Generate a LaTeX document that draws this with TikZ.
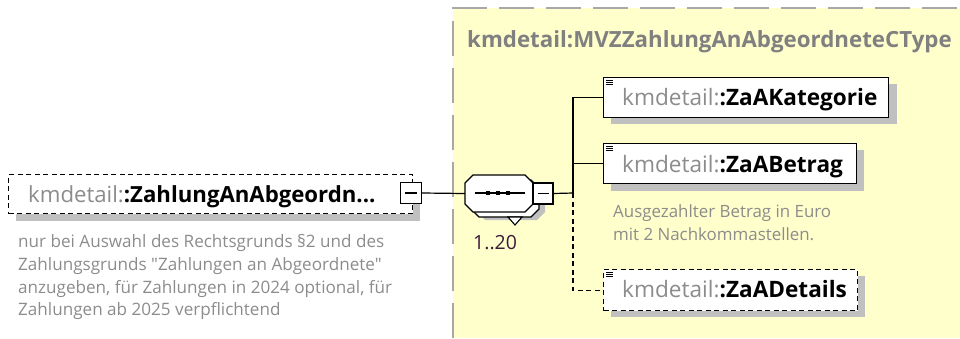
\documentclass[tikz,border=0pt]{standalone}
\usepackage{fontspec}
\setmainfont{Open Sans}[Ligatures=TeXOff]
\usetikzlibrary{calc}
\definecolor{bgyellow}{HTML}{FFFFCC}
\definecolor{shadowgray}{HTML}{C0C0C0}
\definecolor{txtgray}{HTML}{8C8C8C}
\definecolor{titlegray}{HTML}{808080}
\definecolor{borderdash}{HTML}{A8A8A8}
\definecolor{occ}{HTML}{3C1A3A}
\begin{document}
\begin{tikzpicture}[x=1pt,y=-1pt,
  elbox/.style={draw=black, fill=white, line width=1.3pt, inner sep=0pt, anchor=north west},
  optbox/.style={elbox, dash pattern=on 5pt off 3.5pt},
  minusbox/.style={draw=black, fill=white, line width=1.2pt, inner sep=0pt, minimum width=21pt, minimum height=21pt},
  namefont/.style={font=\fontsize{22.6}{26}\selectfont},
  nametext/.style={anchor=base west, inner sep=0pt, namefont},
  desc/.style={anchor=north west, inner sep=0pt, align=left, text=txtgray, font=\fontsize{17.1}{22.7}\selectfont},
  conn/.style={draw=black, line width=1.2pt},
  optconn/.style={conn, dash pattern=on 5pt off 3.5pt}
]
\useasboundingbox (0,0) rectangle (960,338);
% yellow type area
\fill[bgyellow] (453,8) rectangle (960,338);
\draw[borderdash, line width=1.6pt, dash pattern=on 35pt off 12pt] (453,338) -- (453,8) -- (960,8);
\node[anchor=base west, inner sep=0pt, text=titlegray, font=\fontsize{22.3}{26}\selectfont\bfseries] (title) at (467,47) {kmdetail:MVZZahlungAnAbgeordneteCType};

% ---------- left element ----------
\fill[shadowgray] (16,182) rectangle (420,221);
\node[optbox, minimum width=404pt, minimum height=39pt] (elem) at (8,174) {};
\node[nametext, font=\fontsize{22.2}{26}\selectfont] (elemtext) at (28,202) {\textcolor{txtgray}{kmdetail:}\textbf{:ZahlungAnAbgeordn...}};
\node[minusbox] (elemminus) at (411,193) {};
\draw[line width=1.2pt] ($(elemminus.center)+(-6,0)$) -- ($(elemminus.center)+(6,0)$);
\node[desc] (elemdesc) at (18,234.5) {nur bei Auswahl des Rechtsgrunds §2 und des\\Zahlungsgrunds "Zahlungen an Abgeordnete"\\anzugeben, für Zahlungen in 2024 optional, für\\Zahlungen ab 2025 verpflichtend};

% ---------- sequence compositor ----------
\node[inner sep=0pt, minimum width=68pt, minimum height=37pt] (seq) at (499,193.5) {};
\def\octpath{(473,175) -- (525,175) -- (533,183) -- (533,204) -- (525,212) -- (473,212) -- (465,204) -- (465,183) -- cycle}
\begin{scope}[shift={(12,8)}]
  \fill[shadowgray] \octpath;
\end{scope}
\begin{scope}[shift={(6,5)}]
  \filldraw[fill=white, draw=black, line width=1.1pt] \octpath;
\end{scope}
\filldraw[fill=white, draw=black, line width=1.1pt] (508,217) -- (522,217) -- (515,225) -- cycle;
\filldraw[fill=white, draw=black, line width=1.2pt] \octpath;
\draw[line width=1.3pt] (475,193) -- (525,193);
\foreach \sx in {488,498,508} \fill[black] (\sx-2.2,190.8) rectangle (\sx+2.2,195.2);
\node[minusbox, minimum width=20pt] (seqminus) at (543,193.5) {};
\draw[line width=1.2pt] ($(seqminus.center)+(-5.5,0)$) -- ($(seqminus.center)+(5.5,0)$);
\node[anchor=base west, inner sep=0pt, text=occ, font=\fontsize{19.5}{22}\selectfont] (occ) at (473,249) {1..20};

% ---------- children ----------
\fill[shadowgray] (611,84) rectangle (897,124);
\node[elbox, minimum width=285pt, minimum height=40pt] (kat) at (603,77) {};
\node[nametext] (kattext) at (622,105) {\textcolor{txtgray}{kmdetail:}\textbf{:ZaAKategorie}};

\fill[shadowgray] (611,150) rectangle (864,191);
\node[elbox, minimum width=253pt, minimum height=40pt] (bet) at (603,143) {};
\node[nametext] (bettext) at (622,172) {\textcolor{txtgray}{kmdetail:}\textbf{:ZaABetrag}};
\node[desc, font=\fontsize{16.9}{23}\selectfont] (betdesc) at (613,204) {Ausgezahlter Betrag in Euro\\mit 2 Nachkommastellen.};

\fill[shadowgray] (611,276) rectangle (865,317);
\node[optbox, minimum width=254pt, minimum height=41pt] (det) at (603,269) {};
\node[nametext] (dettext) at (622,297) {\textcolor{txtgray}{kmdetail:}\textbf{:ZaADetails}};

% list icons
\foreach \bx in {kat, bet, det} {
  \foreach \k in {0,1,2} \draw[black, line width=0.9pt] ($(\bx.north west)+(3,3+2.2*\k)$) -- ++(7,0);
}

% ---------- connectors ----------
\coordinate (trunk) at (573,193);
\draw[conn] (elemminus.east) -- (seq.west);
\draw[conn] (seqminus.east) -- (trunk);
\draw[conn] (trunk) |- (kat.west);
\draw[conn] (trunk) |- (bet.west);
\draw[optconn] (trunk) |- (det.west);
\end{tikzpicture}
\end{document}
